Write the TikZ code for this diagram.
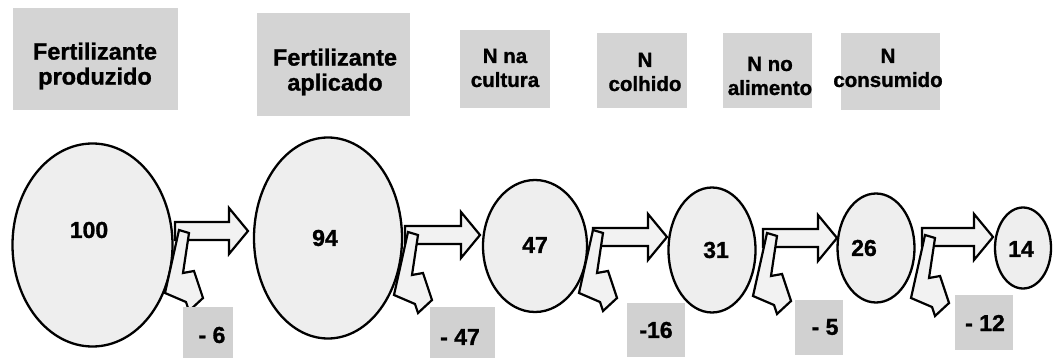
\documentclass[tikz,border=0pt]{standalone}
\usepackage{fontspec}
\setmainfont{Liberation Sans}[BoldFeatures={FakeBold=1.2}]
\usetikzlibrary{shapes.geometric}
\definecolor{hdrgray}{gray}{0.83}
\definecolor{valgray}{gray}{0.82}
\definecolor{ovalgray}{gray}{0.935}
\definecolor{arrgray}{gray}{0.95}
\tikzset{
  hdrbox/.style={fill=hdrgray, draw=none, inner sep=0pt},
  hdrtext/.style={align=center, inner sep=0pt, font=\bfseries\fontsize{20.5}{24}\selectfont},
  bigtext/.style={hdrtext, font=\bfseries\fontsize{23.5}{25}\selectfont},
  valbox/.style={fill=valgray, draw=none, inner sep=0pt},
  oval/.style={ellipse, draw=black, line width=2.3pt, fill=ovalgray, inner sep=0pt},
  numtext/.style={font=\bfseries\fontsize{23}{26}\selectfont, inner sep=0pt},
  blockarrow/.style={draw=black, line width=2.2pt, fill=arrgray, line join=miter},
}
\newcommand\flowarrow[4]{% name, x0, x1, yc
  \coordinate (#1s) at (#2,#4);
  \coordinate (#1t) at (#3,#4);
  \draw[blockarrow] (#2,#4-9) -- (#3-19,#4-9) -- (#3-19,#4-23) -- (#1t)
    -- (#3-19,#4+23) -- (#3-19,#4+9) -- (#2,#4+9) -- cycle;}
\newcommand\lossarrow[3]{% name, x, y of stem top
  \coordinate (#1) at (#2,#3);
  \draw[blockarrow, shift={(#1)}] (0,0) -- (10,3) -- (4,43) -- (15,41) -- (24,68)
    -- (10,81) -- (7,72) -- (-14,63) -- cycle;}
\begin{document}
\begin{tikzpicture}[x=1pt,y=-1pt]
\useasboundingbox (0,0) rectangle (1064,358);
\fill[white] (0,0) rectangle (1064,358);
% header boxes
\node[hdrbox, minimum width=165pt, minimum height=102pt] (h1) at (95.5,59) {};
\node[hdrbox, minimum width=153pt, minimum height=103pt] (h2) at (333.5,64.5) {};
\node[hdrbox, minimum width=90pt, minimum height=78pt] (h3) at (505,69) {};
\node[hdrbox, minimum width=90pt, minimum height=75pt] (h4) at (642,70.5) {};
\node[hdrbox, minimum width=89pt, minimum height=75pt] (h5) at (767.5,70.5) {};
\node[hdrbox, minimum width=99pt, minimum height=77pt] (h6) at (890.5,71.5) {};
\node[bigtext] (t1) at (95,66) {Fertilizante\\produzido};
\node[bigtext] (t2) at (335,72) {Fertilizante\\aplicado};
\node[hdrtext] (t3) at (505,68) {N na\\cultura};
\node[hdrtext] (t4) at (645,72) {N\\colhido};
\node[hdrtext] (t5) at (770,76) {N no\\alimento};
\node[hdrtext] (t6) at (888,68) {N\\consumido};
% ellipses
\node[oval, minimum width=160pt, minimum height=203pt] (e1) at (92.5,245) {};
\node[oval, minimum width=148pt, minimum height=201pt] (e2) at (328,238) {};
\node[oval, minimum width=104pt, minimum height=132pt] (e3) at (535,246) {};
\node[oval, minimum width=87pt, minimum height=125pt] (e4) at (712,250) {};
\node[oval, minimum width=77pt, minimum height=109pt] (e5) at (876,248) {};
\node[oval, minimum width=56pt, minimum height=81pt] (e6) at (1023,248) {};
\node[numtext] (n1) at (89,230) {100};
\node[numtext] (n2) at (325,238) {94};
\node[numtext] (n3) at (535,245) {47};
\node[numtext] (n4) at (716,250) {31};
\node[numtext] (n5) at (864,248) {26};
\node[numtext] (n6) at (1021,249) {14};
% flow arrows
\flowarrow{a1}{175}{248}{231}
\flowarrow{a2}{405}{480}{235}
\flowarrow{a3}{593}{667}{237}
\flowarrow{a4}{763}{837}{238}
\flowarrow{a5}{922}{993}{237}
% loss arrows
\lossarrow{l1}{179}{230}
\lossarrow{l2}{408}{232}
\lossarrow{l3}{593}{230}
\lossarrow{l4}{767}{233}
\lossarrow{l5}{925}{235}
% value boxes
\node[valbox, minimum width=50pt, minimum height=51pt] (v1) at (208,332.5) {};
\node[valbox, minimum width=65pt, minimum height=51pt] (v2) at (462.5,332.5) {};
\node[valbox, minimum width=58pt, minimum height=54pt] (v3) at (656,330) {};
\node[valbox, minimum width=48pt, minimum height=55pt] (v4) at (819,327.5) {};
\node[valbox, minimum width=58pt, minimum height=55pt] (v5) at (984,322.5) {};
\node[numtext] (w1) at (212,335) {- 6};
\node[numtext] (w2) at (460,337) {- 47};
\node[numtext] (w3) at (656,330) {-16};
\node[numtext] (w4) at (825,327) {- 5};
\node[numtext] (w5) at (985,323) {- 12};
\end{tikzpicture}
\end{document}
